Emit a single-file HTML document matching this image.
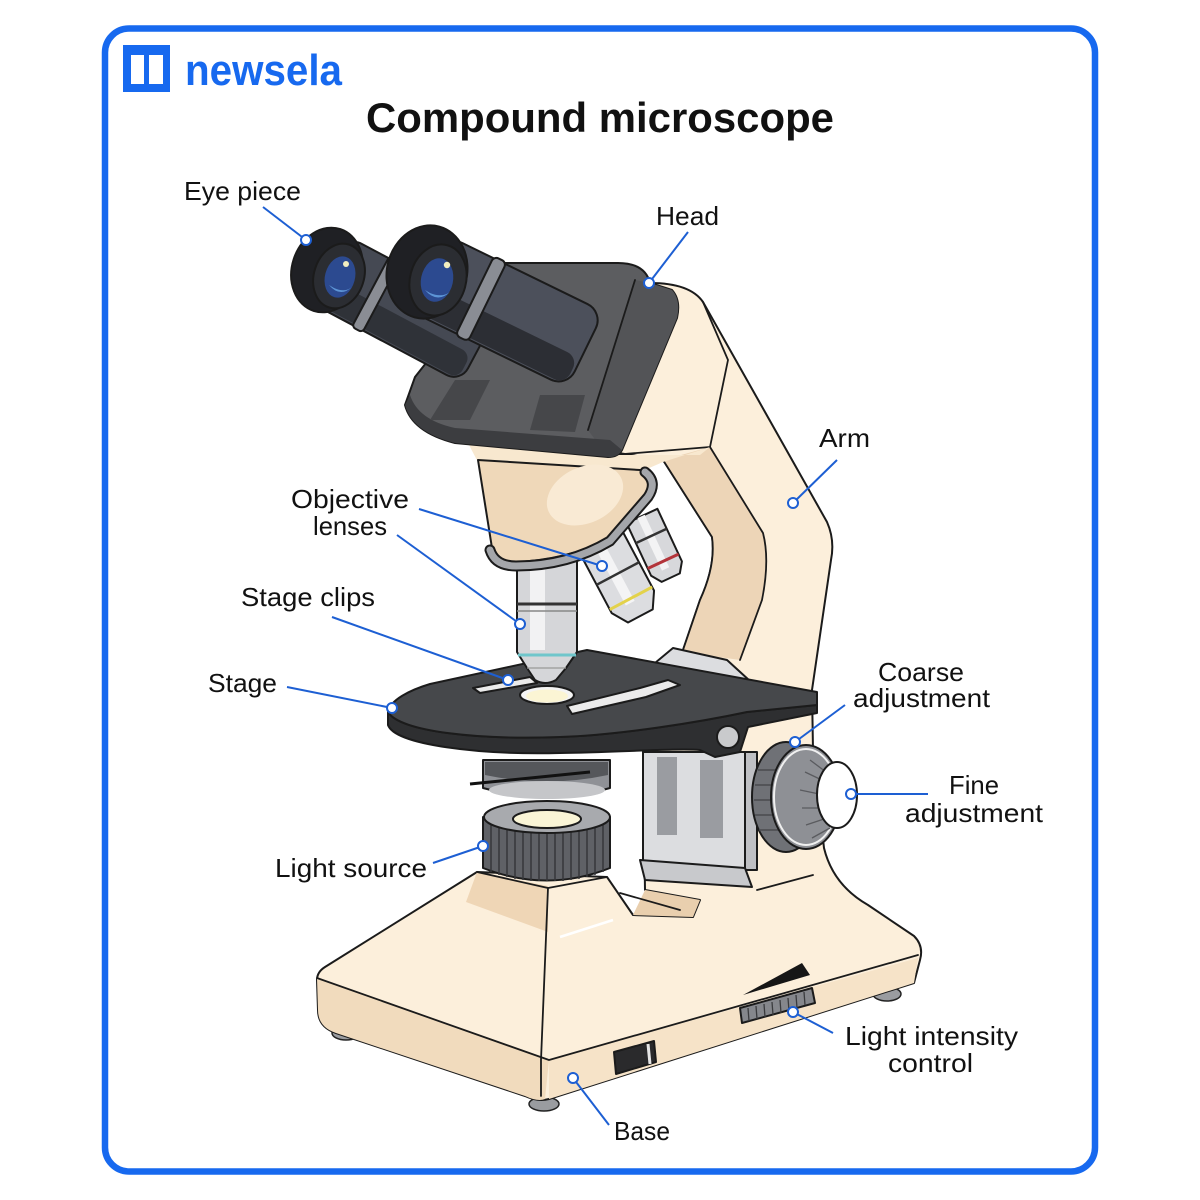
<!DOCTYPE html>
<html>
<head>
<meta charset="utf-8">
<style>
  html,body{margin:0;padding:0;background:#fff;}
  svg{display:block;}
  .lbl{font-family:"Liberation Sans",Arial,sans-serif;font-size:26px;fill:#111;}
  .ol{stroke:#1b1b1b;stroke-width:2;stroke-linejoin:round;stroke-linecap:round;}
  .ln{fill:none;stroke:#1b1b1b;stroke-width:1.8;stroke-linejoin:round;stroke-linecap:round;}
  .cl{fill:none;stroke:#1d5fd3;stroke-width:2;}
  .dot{fill:#fff;stroke:#1d5fd3;stroke-width:2;}
</style>
</head>
<body>
<svg width="1200" height="1200" viewBox="0 0 1200 1200" xmlns="http://www.w3.org/2000/svg">
  <rect x="0" y="0" width="1200" height="1200" fill="#fff"/>
  <!-- frame -->
  <rect x="105" y="28.5" width="990" height="1143" rx="24" ry="24" fill="#fff" stroke="#1769ef" stroke-width="6.5"/>

  <!-- logo -->
  <rect x="123" y="45" width="47" height="47" fill="#1769ef"/>
  <rect x="131" y="55" width="13" height="29" fill="#fff"/>
  <rect x="149" y="55" width="14" height="29" fill="#fff"/>
  <text x="185" y="85" font-family="Liberation Sans, Arial, sans-serif" font-size="44" font-weight="bold" fill="#1769ef" textLength="157" lengthAdjust="spacingAndGlyphs">newsela</text>

  <!-- title -->
  <text x="600" y="132" text-anchor="middle" font-family="Liberation Sans, Arial, sans-serif" font-size="42" font-weight="bold" fill="#111" textLength="468" lengthAdjust="spacingAndGlyphs">Compound microscope</text>

  <!-- ===== MICROSCOPE ===== -->
  <!-- base feet -->
  <ellipse cx="346" cy="1033" rx="14" ry="7" fill="#9a9ca0" stroke="#222" stroke-width="1.5"/>
  <ellipse cx="544" cy="1104" rx="15" ry="7" fill="#9a9ca0" stroke="#222" stroke-width="1.5"/>
  <ellipse cx="887" cy="994" rx="14" ry="7" fill="#9a9ca0" stroke="#222" stroke-width="1.5"/>

  <!-- cream silhouette of arm + pillar + base -->
  <path class="ol" fill="#fcefdb" d="M650,283 Q690,283 703,302 L827,522 Q835,540 831,560 L812,690 L813,750 L824,848 Q833,885 868,905 L914,936 Q924,946 920,960 L914,983 L549,1099 Q538,1102 525,1096 L336,1033 Q318,1027 318,1010 L317,980 Q317,972 325,967 L477,872 L607,877 L633,915 L693,917 L700,900 L645,890 L643,752 L683,650 L700,600 Q716,565 712,537 L663,460 L612,452 Z"/>

  <!-- arm tan side band -->
  <path fill="#edd5b7" d="M663,460 L710,447 L763,533 Q770,560 762,600 L740,660 L683,652 L700,600 Q716,565 712,537 Z"/>
  <path class="ln" d="M703,302 L728,360 L710,447 L612,455"/>
  <path class="ln" d="M710,447 L763,533 Q770,560 762,600 L740,660"/>
  <path class="ln" d="M663,460 L712,537 Q716,565 700,600 L683,650"/>

  <!-- base shading -->
  <path fill="#f1dbbd" d="M317,978 L549,1060 L545,1099 Q538,1102 525,1096 L336,1033 Q318,1027 318,1010 Z"/>
  <path fill="#efd6b6" d="M477,872 L548,886 L548,932 L466,902 Z"/>
  <path fill="#f6e3c8" d="M549,1060 L918,958 L914,983 L549,1099 Z"/>
  <path fill="#e9cfae" d="M633,915 L693,917 L700,900 L645,890 Z"/>
  <path class="ln" d="M317,978 L549,1060 L918,955"/>
  <path class="ln" d="M548,888 L541,1060 L541,1096"/>
  <path class="ln" d="M477,872 L548,888 L607,877"/>
  <path class="ln" d="M757,890 L813,875"/>
  <path class="ln" d="M620,893 L680,910"/>
  <path d="M560,937 L613,920" stroke="#fff" stroke-width="2.5" fill="none"/>

  <!-- base controls -->
  <polygon points="743,995 802,963 810,975" fill="#161616"/>
  <polygon class="ol" points="740,1008 812,988 815,1003 742,1023" fill="#85878c" stroke-width="1.5"/>
  <path d="M748,1008 L749,1021 M756,1006 L757,1019 M764,1004 L765,1017 M772,1002 L773,1015 M780,1000 L781,1013 M788,998 L789,1011 M796,995 L797,1008 M804,992 L805,1005" stroke="#3a3b3e" stroke-width="1.3"/>
  <polygon class="ol" points="614,1052 654,1041 656,1062 616,1074" fill="#2a2a2c" stroke-width="1.5"/>
  <path d="M648,1044 L650,1064" stroke="#e5e5e5" stroke-width="3"/>

  <!-- rack -->
  <rect class="ol" x="643" y="752" width="102" height="118" fill="#dcdde0" stroke-width="1.8"/>
  <rect x="745" y="752" width="12" height="118" fill="#bfc0c4" class="ol" stroke-width="1.5"/>
  <rect x="657" y="757" width="20" height="78" fill="#9a9ca1"/>
  <rect x="700" y="760" width="23" height="78" fill="#9a9ca1"/>
  <polygon class="ol" points="640,860 745,868 752,887 645,880" fill="#c8c9cc" stroke-width="1.5"/>

  <!-- coarse / fine knob -->
  <ellipse class="ol" cx="786" cy="797" rx="34" ry="55" fill="#6f7176"/>
  <path d="M758,770 L790,770 M755,785 L790,785 M754,800 L790,800 M755,815 L790,815 M759,830 L790,830" stroke="#4a4b4f" stroke-width="1.5"/>
  <ellipse class="ol" cx="806" cy="797" rx="35" ry="52" fill="#8e9095"/>
  <ellipse cx="806" cy="797" rx="32" ry="48" fill="none" stroke="#f0f0f0" stroke-width="2"/>
  <path d="M810,760 L830,775 M805,772 L826,782 M800,790 L824,795 M802,808 L824,808 M806,825 L827,818 M812,838 L830,828" stroke="#5a5b5f" stroke-width="1.3"/>
  <ellipse class="ol" cx="837" cy="795" rx="20" ry="33" fill="#ffffff"/>

  <!-- condenser -->
  <path class="ol" d="M483,760 L483,788 Q547,806 610,788 L610,760 Z" fill="#8f9196"/>
  <path d="M485,762 L608,762 L608,775 Q547,788 485,775 Z" fill="#55575b"/>
  <ellipse cx="547" cy="790" rx="58" ry="9" fill="#c5c6c9"/>
  <path d="M470,784 L590,772" stroke="#111" stroke-width="3"/>

  <!-- light source -->
  <path class="ol" d="M483,817 L483,868 Q547,893 610,868 L610,817 Z" fill="#5f6166"/>
  <path d="M491,825 L491,872 M499,826 L499,875 M507,827 L507,877 M515,828 L515,879 M523,829 L523,880 M531,829 L531,881 M539,830 L539,881 M547,830 L547,881 M555,830 L555,881 M563,829 L563,881 M571,829 L571,880 M579,828 L579,879 M587,827 L587,877 M595,826 L595,875 M603,825 L603,872" stroke="#36373a" stroke-width="1.5"/>
  <ellipse class="ol" cx="547" cy="817" rx="63" ry="16" fill="#a8aaae"/>
  <ellipse class="ol" cx="547" cy="819" rx="34" ry="9" fill="#faf5d6" stroke-width="1.5"/>

  <!-- stage slide block -->
  <polygon class="ol" points="655,663 673,648 727,660 750,681 705,690" fill="#dcdde0" stroke-width="1.5"/>

  <!-- stage -->
  <path class="ol" fill="#2e2f31" d="M388,712 L388,725 C395,745 480,755 560,753 C620,752 680,748 700,750 L715,757 L740,752 L748,727 L817,713 L817,705 L747,712 C700,722 620,735 560,737 C480,740 400,732 388,712 Z"/>
  <path class="ol" fill="#46484b" d="M388,712 C390,700 410,690 430,684 L587,650 L817,692 L817,705 L747,712 C700,722 620,735 560,737 C480,740 400,732 388,712 Z"/>
  <circle class="ol" cx="728" cy="737" r="11" fill="#c9cacc" stroke-width="1.5"/>
  <!-- hole -->
  <ellipse class="ol" cx="547" cy="695" rx="27" ry="9" fill="#f4f4f4" stroke-width="1.5"/>
  <ellipse cx="547" cy="696" rx="21" ry="6.5" fill="#fbf5d4"/>
  <!-- clips -->
  <polygon class="ol" points="473,688 530,677 537,683 480,693" fill="#ebebeb" stroke-width="1.5"/>
  <polygon class="ol" points="567,706 640,688 668,680 680,685 646,697 572,714" fill="#ebebeb" stroke-width="1.5"/>

  <!-- side objectives -->
  <g transform="translate(642,516) rotate(-25)">
    <path class="ol" d="M-17,0 L17,0 L17,58 L10,68 L-10,68 L-17,58 Z" fill="#d7d8db"/>
    <rect x="-5" y="0" width="8" height="58" fill="#f3f3f4"/>
    <path d="M-17,22 L17,22" stroke="#333" stroke-width="2.5"/>
    <path d="M-17,50 L17,50" stroke="#b3343a" stroke-width="3"/>
  </g>
  <g transform="translate(600,540) rotate(-28)">
    <path class="ol" d="M-24,0 L24,0 L24,70 L14,86 L-14,86 L-24,70 Z" fill="#dcdde0"/>
    <rect x="-8" y="0" width="10" height="70" fill="#f4f4f5"/>
    <path d="M-24,38 L24,38" stroke="#333" stroke-width="2.5"/>
    <path d="M-24,66 L24,66" stroke="#e3d24a" stroke-width="3"/>
  </g>

  <!-- main objective -->
  <path class="ol" d="M517,556 L517,652 L527,668 L535,680 Q545,686 556,680 L566,668 L577,652 L577,556 Z" fill="#d5d6d9"/>
  <rect x="530" y="560" width="15" height="90" fill="#f2f2f3"/>
  <path d="M517,604 L577,604" stroke="#333" stroke-width="3"/>
  <path d="M517,611 L577,611" stroke="#888" stroke-width="1.5"/>
  <path d="M518,655 L576,655" stroke="#6fc6cb" stroke-width="3"/>
  <path d="M527,668 L566,668" stroke="#999" stroke-width="1.2"/>

  <!-- cream collar under head -->
  <path fill="#f8e8cf" d="M468,443 L612,455 L700,455 L710,447 L663,462 L640,472 L480,466 Z"/>

  <!-- nose piece -->
  <path class="ol" fill="#efd8b9" d="M478,460 L640,470 Q655,478 648,495 L608,540 Q565,560 515,562 Q494,560 492,548 Z"/>
  <ellipse cx="585" cy="495" rx="40" ry="28" fill="#f9ead4" transform="rotate(-25 585 495)"/>
  <path d="M490,550 Q495,566 516,566 Q568,566 610,541 L648,497 Q658,482 645,472" fill="none" stroke="#1b1b1b" stroke-width="11" stroke-linecap="round"/>
  <path d="M490,550 Q495,566 516,566 Q568,566 610,541 L648,497 Q658,482 645,472" fill="none" stroke="#a4a6aa" stroke-width="7" stroke-linecap="round"/>

  <!-- head -->
  <path class="ol" fill="#5c5d60" d="M415,377 L505,263 L618,263 Q645,263 650,283 L672,290 Q681,300 677,318 L622,450 Q618,457 608,457 L455,443 Q412,432 405,405 Z"/>
  <path fill="#535457" d="M635,280 L650,283 L672,290 Q681,300 677,318 L622,450 Q618,457 608,457 L588,430 Z"/>
  <path class="ln" d="M635,280 L588,430"/>
  <path fill="#3c3d40" d="M405,405 Q412,432 455,443 L608,457 Q618,457 622,450 L610,440 L455,428 Q418,420 410,395 Z"/>
  <path fill="#46474a" d="M430,420 L470,420 L490,380 L455,380 Z"/>
  <path fill="#46474a" d="M530,430 L575,432 L585,395 L540,395 Z"/>

  <!-- left eyepiece tube -->
  <g transform="translate(330,270) rotate(28)">
    <rect class="ol" x="0" y="-38" width="168" height="76" rx="16" fill="#454953"/>
    <rect x="2" y="8" width="162" height="28" rx="10" fill="#2f3238"/>
    <rect class="ol" x="46" y="-40" width="12" height="80" rx="4" fill="#8a8d94" stroke-width="1.5"/>
  </g>
  <!-- left eyecup -->
  <ellipse class="ol" cx="327" cy="270" rx="35" ry="43" fill="#1f2024" transform="rotate(18 327 270)"/>
  <ellipse class="ol" cx="339" cy="276" rx="25" ry="33" fill="#2b2d32" transform="rotate(18 339 276)" stroke-width="1.5"/>
  <ellipse cx="340" cy="277" rx="15" ry="21" fill="#2c4a90" transform="rotate(15 340 277)"/>
  <path d="M329,285 Q340,298 352,287 Q345,293 334,288 Z" fill="#5d95d6"/>
  <circle cx="346" cy="264" r="3" fill="#f2eec0"/>

  <!-- right eyepiece tube -->
  <g transform="translate(428,273) rotate(26)">
    <rect class="ol" x="0" y="-42" width="175" height="84" rx="18" fill="#4c505b"/>
    <rect x="2" y="10" width="170" height="30" rx="12" fill="#2c2e34"/>
    <rect class="ol" x="52" y="-44" width="14" height="88" rx="5" fill="#8a8d94" stroke-width="1.5"/>
  </g>
  <!-- right eyecup -->
  <ellipse class="ol" cx="427" cy="272" rx="40" ry="47" fill="#1f2024" transform="rotate(15 427 272)"/>
  <ellipse class="ol" cx="438" cy="280" rx="28" ry="36" fill="#2b2d32" transform="rotate(15 438 280)" stroke-width="1.5"/>
  <ellipse cx="437" cy="280" rx="16" ry="22" fill="#2c4a90" transform="rotate(12 437 280)"/>
  <path d="M425,290 Q437,304 450,292 Q442,298 430,293 Z" fill="#5d95d6"/>
  <circle cx="447" cy="265" r="3.2" fill="#f2eec0"/>

  <!-- ===== LABELS & CONNECTORS ===== -->
  <g>
    <line class="cl" x1="263" y1="207" x2="306" y2="240"/>
    <line class="cl" x1="688" y1="232" x2="649" y2="283"/>
    <line class="cl" x1="837" y1="460" x2="793" y2="503"/>
    <line class="cl" x1="419" y1="509" x2="602" y2="566"/>
    <line class="cl" x1="397" y1="535" x2="520" y2="624"/>
    <line class="cl" x1="332" y1="617" x2="508" y2="680"/>
    <line class="cl" x1="287" y1="687" x2="392" y2="708"/>
    <line class="cl" x1="845" y1="705" x2="795" y2="742"/>
    <line class="cl" x1="928" y1="794" x2="851" y2="794"/>
    <line class="cl" x1="433" y1="863" x2="483" y2="846"/>
    <line class="cl" x1="833" y1="1033" x2="793" y2="1012"/>
    <line class="cl" x1="609" y1="1125" x2="573" y2="1078"/>

    <circle class="dot" cx="306" cy="240" r="5"/>
    <circle class="dot" cx="649" cy="283" r="5"/>
    <circle class="dot" cx="793" cy="503" r="5"/>
    <circle class="dot" cx="602" cy="566" r="5"/>
    <circle class="dot" cx="520" cy="624" r="5"/>
    <circle class="dot" cx="508" cy="680" r="5"/>
    <circle class="dot" cx="392" cy="708" r="5"/>
    <circle class="dot" cx="795" cy="742" r="5"/>
    <circle class="dot" cx="851" cy="794" r="5"/>
    <circle class="dot" cx="483" cy="846" r="5"/>
    <circle class="dot" cx="793" cy="1012" r="5"/>
    <circle class="dot" cx="573" cy="1078" r="5"/>
  </g>

  <text class="lbl" x="184" y="200" textLength="117" lengthAdjust="spacingAndGlyphs">Eye piece</text>
  <text class="lbl" x="656" y="225" textLength="63" lengthAdjust="spacingAndGlyphs">Head</text>
  <text class="lbl" x="819" y="447" textLength="51" lengthAdjust="spacingAndGlyphs">Arm</text>
  <text class="lbl" x="291" y="508" textLength="118" lengthAdjust="spacingAndGlyphs">Objective</text>
  <text class="lbl" x="313" y="535" textLength="74" lengthAdjust="spacingAndGlyphs">lenses</text>
  <text class="lbl" x="241" y="606" textLength="134" lengthAdjust="spacingAndGlyphs">Stage clips</text>
  <text class="lbl" x="208" y="692" textLength="69" lengthAdjust="spacingAndGlyphs">Stage</text>
  <text class="lbl" x="878" y="681" textLength="86" lengthAdjust="spacingAndGlyphs">Coarse</text>
  <text class="lbl" x="853" y="707" textLength="137" lengthAdjust="spacingAndGlyphs">adjustment</text>
  <text class="lbl" x="949" y="794" textLength="50" lengthAdjust="spacingAndGlyphs">Fine</text>
  <text class="lbl" x="905" y="822" textLength="138" lengthAdjust="spacingAndGlyphs">adjustment</text>
  <text class="lbl" x="275" y="877" textLength="152" lengthAdjust="spacingAndGlyphs">Light source</text>
  <text class="lbl" x="845" y="1045" textLength="173" lengthAdjust="spacingAndGlyphs">Light intensity</text>
  <text class="lbl" x="888" y="1072" textLength="85" lengthAdjust="spacingAndGlyphs">control</text>
  <text class="lbl" x="614" y="1140" textLength="56" lengthAdjust="spacingAndGlyphs">Base</text>
</svg>
</body>
</html>
